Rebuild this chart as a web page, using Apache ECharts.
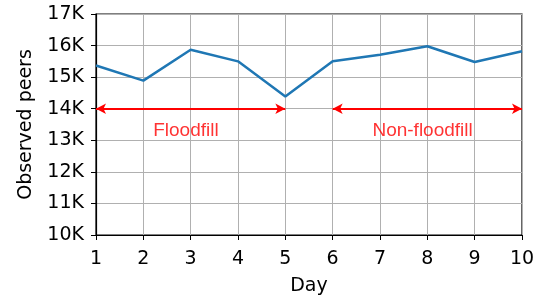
<!DOCTYPE html>
<html>
<head>
<meta charset="utf-8">
<script src="https://cdn.jsdelivr.net/npm/echarts@6/dist/echarts.min.js"></script>
<style>
  html, body { margin: 0; padding: 0; background: #fff; }
  #chart { width: 540px; height: 298px; }
</style>
</head>
<body>
<div id="chart"></div>
<script>
// observed peers per day
const days = [1, 2, 3, 4, 5, 6, 7, 8, 9, 10];
const peers = [15370, 14890, 15870, 15500, 14390, 15500, 15710, 15980, 15480, 15820];

// annotated periods (day ranges at 14K)
const arrowLevel = 14000;
const periods = [
  { name: 'Floodfill', from: 1, to: 5, labelX: 2.9 },
  { name: 'Non-floodfill', from: 6, to: 10, labelX: 7.9 }
];
const labelLevel = 13300;

const chart = echarts.init(document.getElementById('chart'));

const tickFont = { fontFamily: 'DejaVu Sans', fontSize: 19, color: '#000' };

chart.setOption({
  animation: false,
  grid: {
    left: 96, right: 18, top: 14, bottom: 63,
    outerBoundsMode: 'none',
    containLabel: false,
    show: true, borderColor: '#000', borderWidth: 1.2
  },
  xAxis: {
    type: 'value',
    min: 1, max: 10, interval: 1,
    name: 'Day',
    nameLocation: 'middle',
    nameGap: 42,
    nameTextStyle: tickFont,
    axisLine: { show: true, lineStyle: { color: '#000', width: 1.2 } },
    axisTick: { show: true, length: 5, lineStyle: { color: '#000' } },
    axisLabel: Object.assign({ margin: 15 }, tickFont),
    splitLine: { show: true, lineStyle: { color: '#b0b0b0', width: 1 } }
  },
  yAxis: {
    type: 'value',
    min: 10000, max: 17000, interval: 1000,
    name: 'Observed peers',
    nameLocation: 'middle',
    nameGap: 60,
    nameTextStyle: tickFont,
    axisLine: { show: true, lineStyle: { color: '#000', width: 1.2 } },
    axisTick: { show: true, length: 5, lineStyle: { color: '#000' } },
    axisLabel: Object.assign({
      margin: 12,
      formatter: v => (v / 1000) + 'K'
    }, tickFont),
    splitLine: { show: true, lineStyle: { color: '#b0b0b0', width: 1 } }
  },
  series: [
    {
      type: 'line',
      data: days.map((d, i) => [d, peers[i]]),
      showSymbol: false,
      lineStyle: { color: '#1f77b4', width: 2.5 },
      z: 3
    },
    {
      // arrows + their labels
      type: 'scatter',
      data: periods.map(p => ({ value: [p.labelX, labelLevel], name: p.name })),
      symbolSize: 0,
      label: {
        show: true,
        position: 'inside',
        formatter: p => p.name,
        fontFamily: 'Liberation Sans',
        fontSize: 19,
        color: '#ff0000'
      },
      markLine: {
        silent: true,
        symbol: ['arrow', 'arrow'],
        symbolSize: [8, 10],
        label: { show: false },
        lineStyle: { color: '#ff0000', width: 2, type: 'solid' },
        data: periods.map(p => [
          { coord: [p.from, arrowLevel] },
          { coord: [p.to, arrowLevel] }
        ])
      },
      z: 4
    }
  ]
});
</script>
</body>
</html>
